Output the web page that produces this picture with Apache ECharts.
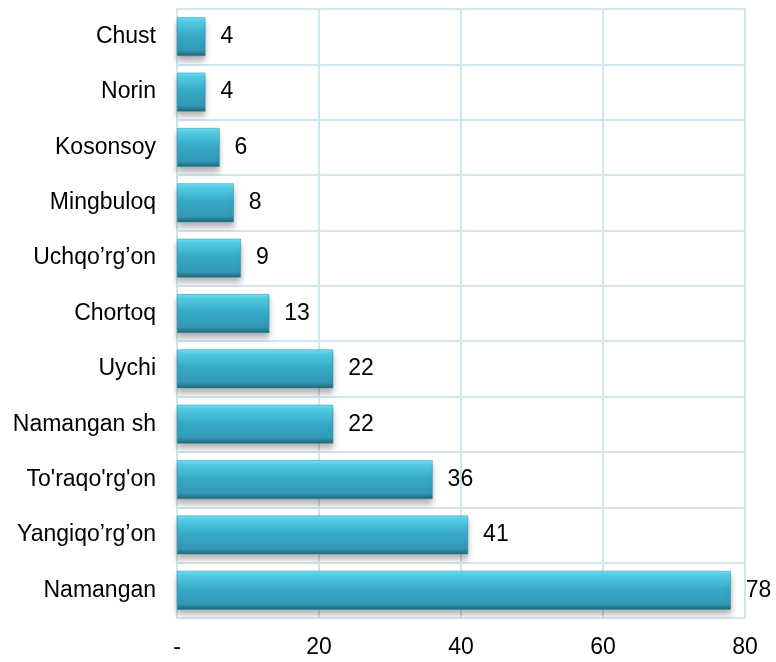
<!DOCTYPE html>
<html>
<head>
<meta charset="utf-8">
<script src="https://cdn.jsdelivr.net/npm/echarts@6/dist/echarts.min.js"></script>
<style>
  html, body { margin: 0; padding: 0; background: #fff; }
  #chart { width: 776px; height: 662px; }
</style>
</head>
<body>
<div id="chart"></div>
<script>
// categories bottom -> top (category axis starts at the bottom)
const districts = ['Namangan', 'Yangiqo\u2019rg\u2019on', 'To\'raqo\'rg\'on', 'Namangan sh', 'Uychi',
  'Chortoq', 'Uchqo\u2019rg\u2019on', 'Mingbuloq', 'Kosonsoy', 'Norin', 'Chust'];
const counts = [78, 41, 36, 22, 22, 13, 9, 8, 6, 4, 4];
const xTicks = [0, 20, 40, 60, 80];

const chart = echarts.init(document.getElementById('chart'));
const gridColor = '#cfe6ee';
const font = 'Liberation Sans, Arial';

chart.setOption({
  animation: false,
  grid: { left: 177, right: 31, top: 9, bottom: 44, show: true, borderColor: gridColor, borderWidth: 2 },
  xAxis: {
    type: 'value',
    min: 0, max: 80, interval: 20,
    axisLine: { show: false },
    axisTick: { show: false },
    splitLine: { lineStyle: { color: gridColor, width: 2 } },
    axisLabel: {
      margin: 18,
      fontFamily: font, fontSize: 23, color: '#000',
      formatter: v => (v === xTicks[0] ? '-' : String(v))
    }
  },
  yAxis: {
    type: 'category',
    data: districts,
    axisLine: { show: false },
    axisTick: { show: false },
    splitLine: { show: true, lineStyle: { color: gridColor, width: 2 } },
    axisLabel: { margin: 21, fontFamily: font, fontSize: 23, color: '#000' }
  },
  series: [{
    type: 'bar',
    data: counts,
    barWidth: '70%',
    itemStyle: {
      color: new echarts.graphic.LinearGradient(0, 0, 0, 1, [
        { offset: 0, color: '#6fe3f5' },
        { offset: 0.1, color: '#55cfe6' },
        { offset: 0.45, color: '#37abca' },
        { offset: 0.85, color: '#3299b6' },
        { offset: 1, color: '#226376' }
      ]),
      borderColor: '#2a8aa3',
      borderWidth: 0.5,
      shadowColor: 'rgba(0,0,0,0.3)',
      shadowBlur: 6,
      shadowOffsetY: 5
    },
    label: {
      show: true, position: 'right', distance: 15,
      fontFamily: font, fontSize: 23, color: '#000'
    }
  }]
});
</script>
</body>
</html>
